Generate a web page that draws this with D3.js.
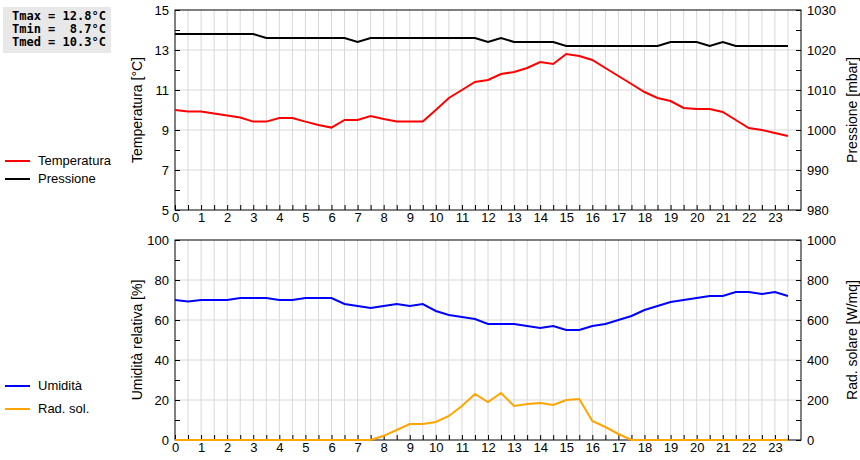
<!DOCTYPE html>
<html><head><meta charset="utf-8">
<script src="https://cdn.jsdelivr.net/npm/d3@7"></script>
<style>body{margin:0;background:#fff}svg{font-family:"Liberation Sans",Arial,sans-serif}</style>
</head><body><svg id="c" width="860" height="460"></svg>
<script>
const hours = d3.range(48).map(i => i / 2)
const temperatura = [10.0,9.92,9.92,9.82,9.72,9.62,9.42,9.42,9.6,9.6,9.42,9.25,9.12,9.5,9.5,9.7,9.55,9.42,9.42,9.42,10.0,10.6,11.0,11.4,11.5,11.8,11.9,12.1,12.4,12.3,12.8,12.7,12.5,12.1,11.7,11.3,10.9,10.6,10.45,10.1,10.05,10.05,9.9,9.5,9.1,9.0,8.85,8.7]
const pressione = [1024,1024,1024,1024,1024,1024,1024,1023,1023,1023,1023,1023,1023,1023,1022,1023,1023,1023,1023,1023,1023,1023,1023,1023,1022,1023,1022,1022,1022,1022,1021,1021,1021,1021,1021,1021,1021,1021,1022,1022,1022,1021,1022,1021,1021,1021,1021,1021]
const umidita = [70,69.2,70,70,70,71,71,71,70,70,71,71,71,68,67,66,67,68,67,68,64.5,62.5,61.5,60.5,58,58,58,57,56,57,55,55,57,58,60,62,65,67,69,70,71,72,72,74,74,73,74,72]
const radSol = [0,0,0,0,0,0,0,0,0,0,0,0,0,0,0,0,21,50,80,80,90,120,170,230,190,235,170,180,185,175,200,205,95,65,30,0,0,0,0,0,0,0,0,0,0,0,0,0]
const stats = ['Tmax = 12.8°C', 'Tmin =  8.7°C', 'Tmed = 10.3°C']

const svg = d3.select('#c')
const x = d3.scaleLinear().domain([0, 24]).range([175, 801])

function panel(top, bottom, yl, yr, ticksL, ticksR, titleL, titleR, series, legendY) {
  const y1 = d3.scaleLinear().domain(yl).range([bottom, top])
  const y2 = d3.scaleLinear().domain(yr).range([bottom, top])
  const g = svg.append('g')
  // grid
  g.selectAll('.vg').data(d3.range(1, 48)).enter().append('line')
    .attr('x1', d => x(d / 2)).attr('x2', d => x(d / 2)).attr('y1', top).attr('y2', bottom)
    .attr('stroke', '#d8d8d8')
  g.selectAll('.hg').data(ticksL.slice(1, -1)).enter().append('line')
    .attr('x1', x(0)).attr('x2', x(24)).attr('y1', d => y1(d)).attr('y2', d => y1(d))
    .attr('stroke', '#d8d8d8')
  g.append('rect').attr('x', x(0)).attr('y', top).attr('width', x(24) - x(0)).attr('height', bottom - top)
    .attr('fill', 'none').attr('stroke', '#000')
  const ax = g.append('g').attr('transform', `translate(0,${bottom})`)
    .call(d3.axisBottom(x).tickValues(d3.range(0, 24, 0.5)).tickSize(-5).tickPadding(3)
      .tickFormat(d => Number.isInteger(d) ? d : ''))
  const al = g.append('g').attr('transform', `translate(${x(0)},0)`)
    .call(d3.axisLeft(y1).tickValues(d3.range(yl[0], yl[1] + 0.01, (ticksL[1] - ticksL[0]) / 2)).tickSize(-5).tickPadding(6)
      .tickFormat(d => ticksL.includes(d) ? d : ''))
  const ar = g.append('g').attr('transform', `translate(${x(24)},0)`)
    .call(d3.axisRight(y2).tickValues(d3.range(yr[0], yr[1] + 0.01, (ticksR[1] - ticksR[0]) / 2)).tickSize(-5).tickPadding(6)
      .tickFormat(d => ticksR.includes(d) ? d : ''))
  ;[ax, al, ar].forEach(a => {
    a.select('.domain').remove()
    a.selectAll('text').attr('font-size', 13).attr('fill', '#000').attr('font-family', '"Liberation Sans",Arial,sans-serif')
    a.selectAll('line').attr('stroke', '#000')
  })
  const mid = (top + bottom) / 2
  g.append('text').attr('transform', `translate(142,${mid}) rotate(-90)`).attr('text-anchor', 'middle')
    .attr('font-size', 14).text(titleL)
  g.append('text').attr('transform', `translate(857,${mid}) rotate(-90)`).attr('text-anchor', 'middle')
    .attr('font-size', 14).text(titleR)
  series.forEach((s, i) => {
    const sc = s.right ? y2 : y1
    g.append('path').datum(s.values).attr('fill', 'none').attr('stroke', s.color).attr('stroke-width', 2)
      .attr('d', d3.line().x((d, j) => x(hours[j])).y(d => sc(d)))
    const ly = legendY[i]
    g.append('line').attr('x1', 5).attr('x2', 30).attr('y1', ly).attr('y2', ly).attr('stroke', s.color).attr('stroke-width', 2)
    g.append('text').attr('x', 38).attr('y', ly + 4).attr('font-size', 13).text(s.name)
  })
}

panel(10, 210, [5, 15], [980, 1030], [5, 7, 9, 11, 13, 15], [980, 990, 1000, 1010, 1020, 1030],
  'Temperatura [°C]', 'Pressione [mbar]',
  [{name: 'Temperatura', values: temperatura, color: '#ff0000'},
   {name: 'Pressione', values: pressione, color: '#000000', right: true}], [161, 179])

panel(240, 440, [0, 100], [0, 1000], [0, 20, 40, 60, 80, 100], [0, 200, 400, 600, 800, 1000],
  'Umidità relativa [%]', 'Rad. solare [W/mq]',
  [{name: 'Umidità', values: umidita, color: '#0000ff'},
   {name: 'Rad. sol.', values: radSol, color: '#ffa500', right: true}], [386, 409])

svg.append('rect').attr('x', 3).attr('y', 7).attr('width', 108).attr('height', 46).attr('fill', '#e8e8e8')
svg.selectAll('.st').data(stats).enter().append('text')
  .attr('x', 12).attr('y', (d, i) => 20 + i * 13).attr('font-size', 12).attr('font-weight', 'bold')
  .attr('font-family', '"DejaVu Sans Mono",monospace').attr('xml:space', 'preserve').style('white-space', 'pre')
  .text(d => d)
</script></body></html>
